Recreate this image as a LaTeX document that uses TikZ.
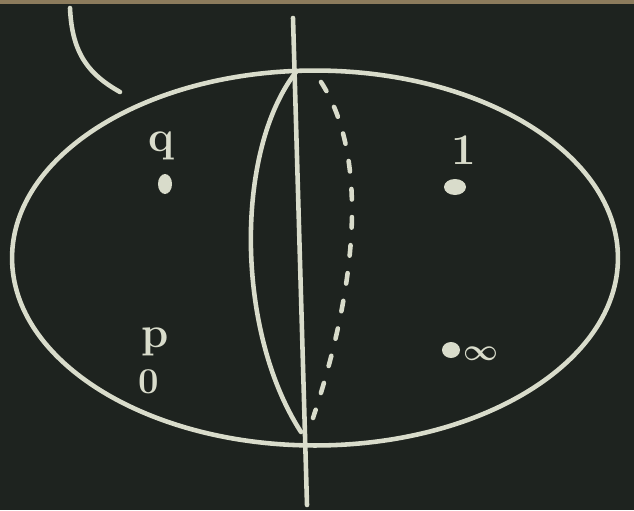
\documentclass[tikz,border=0pt]{standalone}
\usepackage{amsmath}
\usetikzlibrary{calc,shapes.geometric}
\definecolor{board}{HTML}{1E231F}
\definecolor{chalk}{HTML}{D9DCCB}
\definecolor{ledge}{HTML}{8C7B5C}
\tikzset{
  chalkline/.style={draw=chalk, line width=2.6pt, line cap=round},
  chalkdash/.style={draw=chalk, line width=2.6pt, line cap=round, dash pattern=on 6pt off 10pt},
  chalkdot/.style={fill=chalk, draw=none},
  chalktext/.style={text=chalk, font=\bfseries\Huge, inner sep=0pt}
}
\begin{document}
\begin{tikzpicture}[x=0.02cm, y=-0.02cm]
\useasboundingbox (0,0) rectangle (634,510);
\fill[board] (0,0) rectangle (634,510);
\fill[ledge] (0,0) rectangle (634,4);
% pointer stroke
\coordinate (s1) at (70,8);
\coordinate (s2) at (120,92);
\draw[chalkline] (s1) .. controls (72,55) and (90,75) .. (s2);
% sphere outline
\node[chalkline, ellipse, minimum width=12.12cm, minimum height=7.5cm, inner sep=0pt] (sphere) at (315,258) {};
% vertical axis
\coordinate (axtop) at (293,18);
\coordinate (axbot) at (307,505);
\draw[chalkline] (axtop) -- (axbot);
% front meridian
\coordinate (mtop) at (296,72);
\coordinate (mbot) at (301,432);
\draw[chalkline] (mtop) .. controls (235,150) and (235,330) .. (mbot);
% back meridian (dashed)
\coordinate (btop) at (321,82);
\coordinate (bbot) at (313,418);
\draw[chalkdash] (btop) .. controls (365,150) and (362,270) .. (bbot);
% labels and points
\node[chalktext] (q) at (161,146) {q};
\fill[chalkdot] (165,184) ellipse (7 and 10);
\node[chalktext] (one) at (464,150) {1};
\fill[chalkdot] (455,187) ellipse (11 and 8);
\node[chalktext] (p) at (155,342) {p};
\node[chalktext, font=\bfseries\huge] (zero) at (149,382) {0};
\fill[chalkdot] (451,350) ellipse (9 and 8);
\node[chalktext] (inf) at (481,354) {\LARGE$\boldsymbol{\infty}$};
\end{tikzpicture}
\end{document}
